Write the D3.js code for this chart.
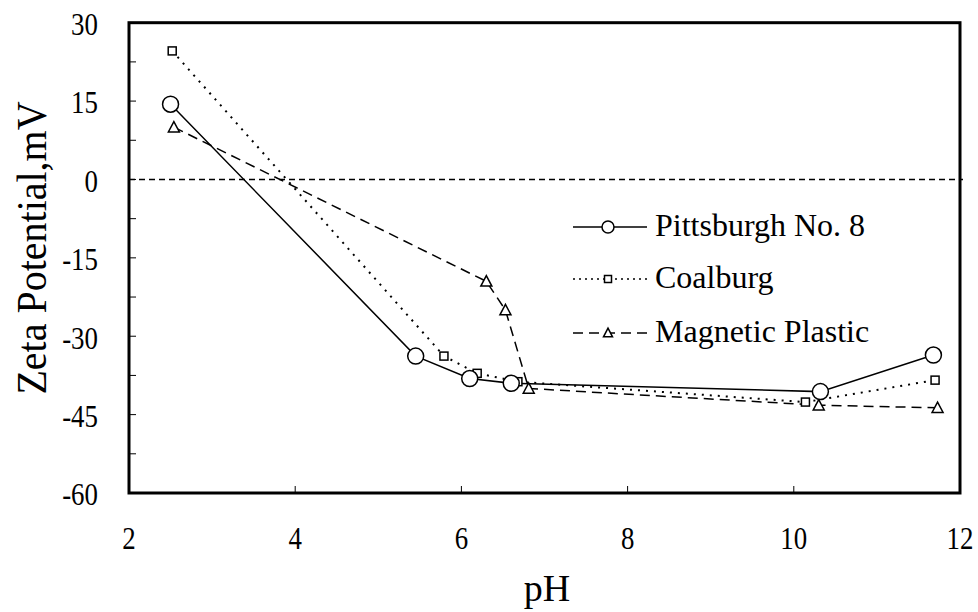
<!DOCTYPE html>
<html>
<head>
<meta charset="utf-8">
<script src="https://cdn.jsdelivr.net/npm/d3@7"></script>
<style>
  body { margin: 0; background: #fff; }
  svg text { font-family: "Liberation Serif", "Times New Roman", serif; fill: #000; }
</style>
</head>
<body>
<svg id="chart" width="978" height="612"></svg>
<script>
// data
const pittsburghPH = [2.50, 5.45, 6.10, 6.60, 10.32, 11.68];
const pittsburghZeta = [14.4, -33.8, -38.1, -39.0, -40.6, -33.6];
const coalburgPH = [2.52, 5.79, 6.19, 6.68, 10.14, 11.70];
const coalburgZeta = [24.6, -33.8, -37.1, -38.7, -42.6, -38.4];
const magneticPH = [2.54, 6.30, 6.53, 6.81, 10.30, 11.73];
const magneticZeta = [10.0, -19.5, -25.0, -40.0, -43.2, -43.7];
const xTicks = [2, 4, 6, 8, 10, 12];
const yTicks = [30, 15, 0, -15, -30, -45, -60];
const yMinorTicks = [22.5, 7.5, -7.5, -22.5, -37.5, -52.5];
const seriesNames = ['Pittsburgh No. 8', 'Coalburg', 'Magnetic Plastic'];

const svg = d3.select('#chart');
const x = d3.scaleLinear().domain([2, 12]).range([129, 960]);
const y = d3.scaleLinear().domain([-60, 30]).range([493, 22.7]);

function label(sel, px, py, txt, size, anchor, squash) {
    const g = sel.append('g').attr('transform', `translate(${px},${py}) scale(${squash},1)`);
    g.append('text')
        .attr('text-anchor', anchor)
        .attr('dominant-baseline', 'central')
        .style('font-size', size + 'px')
        .text(txt);
    return g;
}

// zero line
svg.append('line')
    .attr('x1', x(2)).attr('x2', x(12) + 3)
    .attr('y1', y(0)).attr('y2', y(0))
    .attr('stroke', '#000').attr('stroke-width', 1.5)
    .attr('stroke-dasharray', '6,4');

// ticks (inside)
const axisG = svg.append('g');
yTicks.concat(yMinorTicks).forEach(v => {
    axisG.append('line')
        .attr('x1', x(2)).attr('x2', x(2) + 7)
        .attr('y1', y(v)).attr('y2', y(v))
        .attr('stroke', '#000').attr('stroke-width', 1);
});
xTicks.forEach(v => {
    axisG.append('line')
        .attr('x1', x(v)).attr('x2', x(v))
        .attr('y1', y(-60)).attr('y2', y(-60) - 7)
        .attr('stroke', '#000').attr('stroke-width', 1);
});

// tick labels
yTicks.forEach(v => label(svg, 98, y(v) + 1.5, v, 32, 'end', 0.84));
xTicks.forEach(v => label(svg, x(v), 538, v, 32, 'middle', 0.84));

// axis titles
label(svg, 547, 588, 'pH', 38, 'middle', 1);
svg.append('g')
    .attr('transform', `translate(32,248) rotate(-90) scale(0.93,1)`)
    .append('text')
    .attr('text-anchor', 'middle')
    .attr('dominant-baseline', 'central')
    .style('font-size', '43px')
    .text('Zeta Potential,mV');

// series
const line = d3.line().x(d => x(d[0])).y(d => y(d[1]));
const pitt = pittsburghPH.map((v, i) => [v, pittsburghZeta[i]]);
const coal = coalburgPH.map((v, i) => [v, coalburgZeta[i]]);
const mag = magneticPH.map((v, i) => [v, magneticZeta[i]]);

svg.append('path').datum(pitt).attr('d', line)
    .attr('fill', 'none').attr('stroke', '#000').attr('stroke-width', 1.5);
svg.append('path').datum(coal).attr('d', line)
    .attr('fill', 'none').attr('stroke', '#000').attr('stroke-width', 2)
    .attr('stroke-dasharray', '2,6');
svg.append('path').datum(mag).attr('d', line)
    .attr('fill', 'none').attr('stroke', '#000').attr('stroke-width', 1.5)
    .attr('stroke-dasharray', '10,6');

function circleMark(sel, cx, cy, r) {
    sel.append('circle').attr('cx', cx).attr('cy', cy).attr('r', r)
        .attr('fill', '#fff').attr('stroke', '#000').attr('stroke-width', 1.5);
}
function squareMark(sel, cx, cy, s) {
    sel.append('rect').attr('x', cx - s / 2).attr('y', cy - s / 2)
        .attr('width', s).attr('height', s)
        .attr('fill', '#fff').attr('stroke', '#000').attr('stroke-width', 1.5);
}
function triMark(sel, cx, cy, s) {
    const h = s * 0.85;
    sel.append('path')
        .attr('d', `M${cx},${cy - h / 2 - 1}L${cx + s / 2},${cy + h / 2}L${cx - s / 2},${cy + h / 2}Z`)
        .attr('fill', '#fff').attr('stroke', '#000').attr('stroke-width', 1.5);
}

coal.forEach(d => squareMark(svg, x(d[0]), y(d[1]), 8));
mag.forEach(d => triMark(svg, x(d[0]), y(d[1]), 11));
pitt.forEach(d => circleMark(svg, x(d[0]), y(d[1]), 8));

// frame
svg.append('rect')
    .attr('x', x(2)).attr('y', y(30))
    .attr('width', x(12) - x(2)).attr('height', y(-60) - y(30))
    .attr('fill', 'none').attr('stroke', '#000').attr('stroke-width', 3);

// legend
const legY = [227, 279, 333];
const leg = svg.append('g');
leg.append('line').attr('x1', 573).attr('x2', 647).attr('y1', legY[0]).attr('y2', legY[0])
    .attr('stroke', '#000').attr('stroke-width', 1.5);
circleMark(leg, 608, legY[0], 6);
leg.append('line').attr('x1', 573).attr('x2', 647).attr('y1', legY[1]).attr('y2', legY[1])
    .attr('stroke', '#000').attr('stroke-width', 1.5).attr('stroke-dasharray', '2,4');
squareMark(leg, 608, legY[1], 7);
leg.append('line').attr('x1', 573).attr('x2', 647).attr('y1', legY[2]).attr('y2', legY[2])
    .attr('stroke', '#000').attr('stroke-width', 1.5).attr('stroke-dasharray', '10,6');
triMark(leg, 608, legY[2], 9);
seriesNames.forEach((n, i) => label(leg, 655, legY[i] - 2, n, 32, 'start', 1));
</script>
</body>
</html>
